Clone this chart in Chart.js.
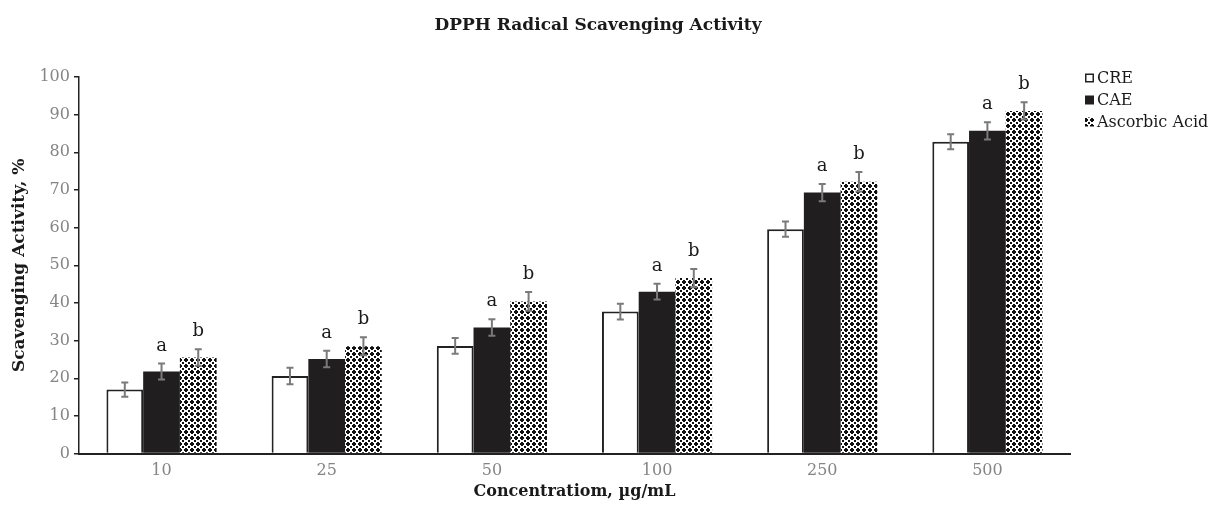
<!DOCTYPE html>
<html>
<head>
<meta charset="utf-8">
<script src="https://cdn.jsdelivr.net/npm/chart.js@4.4.0/dist/chart.umd.min.js"></script>
<style>
  html, body { margin: 0; padding: 0; background: #fff; }
  #wrap { width: 1219px; height: 529px; }
</style>
</head>
<body>
<div id="wrap"><canvas id="dpphChart" width="1219" height="529"></canvas></div>
<script>
const categories = ["10", "25", "50", "100", "250", "500"];

const creValues = [17.0, 20.6, 28.6, 37.7, 59.6, 82.8];
const caeValues = [21.8, 25.1, 33.5, 43.0, 69.3, 85.7];
const ascorbicValues = [25.5, 28.5, 40.4, 46.6, 72.2, 91.0];

const creErrors = [1.9, 2.2, 2.1, 2.1, 2.0, 2.0];
const caeErrors = [2.1, 2.2, 2.2, 2.1, 2.3, 2.3];
const ascorbicErrors = [2.2, 2.4, 2.5, 2.4, 2.6, 2.3];

const caeLetters = ["a", "a", "a", "a", "a", "a"];
const ascorbicLetters = ["b", "b", "b", "b", "b", "b"];

const yTicks = [0, 10, 20, 30, 40, 50, 60, 70, 80, 90, 100];

const serif = "'DejaVu Serif', 'Liberation Serif', serif";
const tickGray = "#858585";

// checkered pattern used for the ascorbic acid bars
function makePattern() {
	const rows = [
		"XX..XX",
		"X....X",
		"..XX..",
		"..XX..",
		"X....X",
		"XX..XX",
	];
	const c = document.createElement("canvas");
	c.width = 6;
	c.height = 6;
	const g = c.getContext("2d");
	g.fillStyle = "#fff";
	g.fillRect(0, 0, 6, 6);
	g.fillStyle = "#111";
	rows.forEach((row, y) => {
		[...row].forEach((ch, x) => {
			if (ch === "X") g.fillRect(x, y, 1, 1);
		});
	});
	return document.getElementById("dpphChart").getContext("2d").createPattern(c, "repeat");
}

const checkPattern = makePattern();

const errorBarPlugin = {
	id: "errorBars",
	afterDatasetsDraw(chart) {
		const { ctx } = chart;
		const yScale = chart.scales.y;
		chart.data.datasets.forEach((ds, i) => {
			const meta = chart.getDatasetMeta(i);
			meta.data.forEach((bar, j) => {
				const v = ds.data[j];
				const e = ds.errors[j];
				const top = yScale.getPixelForValue(v + e);
				const bottom = yScale.getPixelForValue(v - e);
				ctx.save();
				ctx.strokeStyle = "#7a7a7a";
				ctx.lineWidth = 2;
				ctx.beginPath();
				ctx.moveTo(bar.x, top);
				ctx.lineTo(bar.x, bottom);
				ctx.moveTo(bar.x - 3.5, top);
				ctx.lineTo(bar.x + 3.5, top);
				ctx.moveTo(bar.x - 3.5, bottom);
				ctx.lineTo(bar.x + 3.5, bottom);
				ctx.stroke();
				if (ds.letters) {
					ctx.fillStyle = "#1a1a1a";
					ctx.font = "18px " + serif;
					ctx.textAlign = "center";
					ctx.textBaseline = "alphabetic";
					ctx.fillText(ds.letters[j], bar.x, top - 13);
				}
				ctx.restore();
			});
		});
	},
};

// title and legend are placed off to the side like the original figure
const titleLegendPlugin = {
	id: "titleLegend",
	afterDraw(chart) {
		const { ctx } = chart;
		ctx.save();
		ctx.fillStyle = "#1a1a1a";
		ctx.font = "bold 17px " + serif;
		ctx.textAlign = "center";
		ctx.textBaseline = "middle";
		ctx.fillText("DPPH Radical Scavenging Activity", 598, 26);

		ctx.font = "16px " + serif;
		ctx.textAlign = "left";
		chart.data.datasets.forEach((ds, i) => {
			const cy = 78 + i * 22;
			ctx.fillStyle = ds.backgroundColor;
			ctx.fillRect(1085, cy - 4.5, 9, 9);
			if (ds.borderWidth) {
				ctx.strokeStyle = ds.borderColor;
				ctx.lineWidth = 1.5;
				ctx.strokeRect(1085.75, cy - 3.75, 7.5, 7.5);
			}
			ctx.fillStyle = "#1a1a1a";
			ctx.fillText(ds.label, 1097, cy + 1);
		});
		ctx.restore();
	},
};

new Chart(document.getElementById("dpphChart"), {
	type: "bar",
	data: {
		labels: categories,
		datasets: [
			{
				label: "CRE",
				data: creValues,
				errors: creErrors,
				backgroundColor: "#ffffff",
				borderColor: "#222",
				borderWidth: 2,
				borderSkipped: "bottom",
			},
			{
				label: "CAE",
				data: caeValues,
				errors: caeErrors,
				letters: caeLetters,
				backgroundColor: "#211e1f",
				borderWidth: 0,
			},
			{
				label: "Ascorbic Acid",
				data: ascorbicValues,
				errors: ascorbicErrors,
				letters: ascorbicLetters,
				backgroundColor: checkPattern,
				borderWidth: 0,
			},
		],
	},
	options: {
		responsive: false,
		animation: false,
		devicePixelRatio: 1,
		layout: {
			padding: { top: 77, bottom: 24, left: 9, right: 149 },
		},
		datasets: {
			bar: {
				categoryPercentage: 0.667,
				barPercentage: 1.0,
			},
		},
		scales: {
			x: {
				grid: { display: true, drawOnChartArea: false, drawTicks: false },
				border: { display: true, color: "#222", width: 2 },
				ticks: {
					color: tickGray,
					font: { family: serif, size: 16 },
					padding: 8,
				},
				title: {
					display: true,
					text: "Concentratiom, µg/mL",
					color: "#1a1a1a",
					font: { family: serif, size: 16, weight: "bold" },
					padding: { top: -7 },
				},
			},
			y: {
				min: 0,
				max: 100,
				afterBuildTicks(scale) {
					scale.ticks = yTicks.map((v) => ({ value: v }));
				},
				grid: {
					display: true,
					drawOnChartArea: false,
					drawTicks: true,
					tickLength: 5,
					tickColor: "#222",
					lineWidth: 1.5,
				},
				border: { display: true, color: "#222", width: 1.5 },
				ticks: {
					color: tickGray,
					font: { family: serif, size: 16 },
					padding: 4,
				},
				title: {
					display: true,
					text: "Scavenging Activity, %",
					color: "#1a1a1a",
					font: { family: serif, size: 17, weight: "bold" },
					padding: { top: 0, bottom: 6 },
				},
			},
		},
		plugins: {
			title: { display: false },
			legend: { display: false },
			tooltip: { enabled: false },
		},
	},
	plugins: [errorBarPlugin, titleLegendPlugin],
});
</script>
</body>
</html>
